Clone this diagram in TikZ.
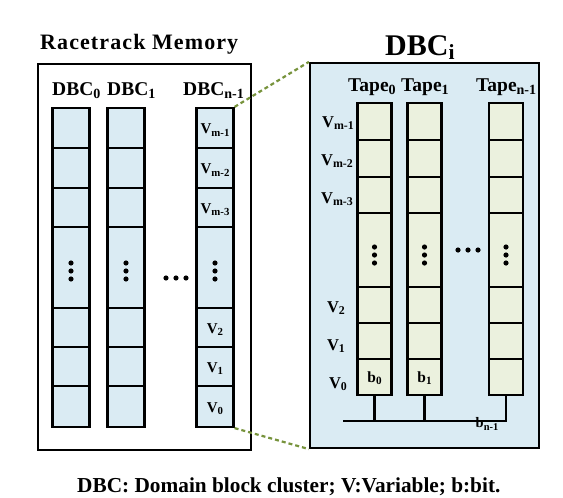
\documentclass[tikz,border=0pt]{standalone}
\usepackage{fontspec}
\usepackage{graphicx}
\setmainfont{Liberation Serif}
\definecolor{boxblue}{HTML}{DAEBF3}
\definecolor{tapefill}{HTML}{EBF1DE}
\definecolor{dashgreen}{HTML}{77933C}
\newcommand\sbt[1]{\raisebox{-0.35ex}{\scalebox{0.72}{#1}}}
\newcommand\fsz[1]{\fontsize{#1}{#1}\selectfont\bfseries}
\begin{document}
\begin{tikzpicture}[x=1pt,y=-1pt,
  lcell/.style={draw=black,line width=2.2pt,fill=boxblue,minimum width=37pt,inner sep=0pt},
  tcell/.style={draw=black,line width=2.2pt,fill=tapefill,minimum width=34pt,inner sep=0pt},
  bigbox/.style={draw=black,line width=2.2pt,inner sep=0pt},
  lvlab/.style={font=\fsz{15},inner sep=0pt},
  rvlab/.style={font=\fsz{16.5},inner sep=0pt},
  txt/.style={inner sep=0pt},
  zoomline/.style={draw=dashgreen,line width=2.2pt,dash pattern=on 4pt off 3pt},
  dot/.style={fill=black}]
\useasboundingbox (0,0) rectangle (563,498);
% left outer box
\node[bigbox,minimum width=213pt,minimum height=386pt] (rm) at (144.5,257) {};
\node[txt,anchor=base west,font=\fsz{22}\addfontfeature{LetterSpace=5}] (rmt) at (40,49) {Racetrack Memory};
% right box
\node[bigbox,fill=boxblue,minimum width=229pt,minimum height=385pt] (dbci) at (424.5,255.5) {};
\node[txt,anchor=base west,font=\fsz{30}] (dbcit) at (385,55) {DBC\sbt{i}};
% left columns
\foreach \c/\x in {a/71,b/126,c/215}{
  \foreach \n/\t/\b in {1/108/148,2/148/188,3/188/227,4/227/308,5/308/347,6/347/386,7/386/427}{
    \node[lcell,minimum height={(\b-\t)*1pt}] (\c\n) at (\x,{(\t+\b)/2}) {};
  }
}
\node[txt,anchor=base west,font=\fsz{19.5}] (la) at (52,95) {DBC\sbt{0}};
\node[txt,anchor=base west,font=\fsz{19.5}] (lb) at (107,95) {DBC\sbt{1}};
\node[txt,anchor=base west,font=\fsz{19.5}] (lc) at (183,95) {DBC\sbt{n-1}};
\node[lvlab] (cv1) at ([yshift=-2pt]c1.center) {V\sbt{m-1}};
\node[lvlab] (cv2) at ([yshift=-2pt]c2.center) {V\sbt{m-2}};
\node[lvlab] (cv3) at ([yshift=-2pt]c3.center) {V\sbt{m-3}};
\node[lvlab] (cv5) at ([yshift=-2pt]c5.center) {V\sbt{2}};
\node[lvlab] (cv6) at ([yshift=-2pt]c6.center) {V\sbt{1}};
\node[lvlab] (cv7) at ([yshift=-2pt]c7.center) {V\sbt{0}};
\foreach \c in {a,b,c}{
  \foreach \d in {-8,0,8}{
    \fill[dot] ([yshift=-3.5pt+\d pt]\c4.center) circle (2.6pt);
  }
}
\foreach \xx in {166,176,186}{\fill[dot] (\xx,278) circle (2.6pt);}
% tapes
\foreach \c/\x in {p/374.5,q/424.5,r/506}{
  \foreach \n/\t/\b in {1/103/140,2/140/177,3/177/213,4/213/287,5/287/323,6/323/359,7/359/395}{
    \node[tcell,minimum height={(\b-\t)*1pt}] (\c\n) at (\x,{(\t+\b)/2}) {};
  }
}
\node[txt,anchor=base west,font=\fsz{19.5}] (tp) at (348,91) {Tape\sbt{0}};
\node[txt,anchor=base west,font=\fsz{19.5}] (tq) at (401,91) {Tape\sbt{1}};
\node[txt,anchor=base west,font=\fsz{19.5}] (tr) at (476,91) {Tape\sbt{n-1}};
\foreach \c in {p,q,r}{
  \foreach \d in {-8,0,8}{
    \fill[dot] ([yshift=-5pt+\d pt]\c4.center) circle (2.6pt);
  }
}
\foreach \xx in {458,468,478}{\fill[dot] (\xx,250) circle (2.6pt);}
\node[rvlab] (rv1) at (338,123) {V\sbt{m-1}};
\node[rvlab] (rv2) at (337,161) {V\sbt{m-2}};
\node[rvlab] (rv3) at (337,199) {V\sbt{m-3}};
\node[rvlab] (rv5) at (336,308) {V\sbt{2}};
\node[rvlab] (rv6) at (336,346) {V\sbt{1}};
\node[rvlab] (rv7) at (338,384) {V\sbt{0}};
\node[txt,font=\fsz{15.5}] (b0) at ([yshift=-1pt]p7.center) {b\sbt{0}};
\node[txt,font=\fsz{15.5}] (b1) at ([yshift=-1pt]q7.center) {b\sbt{1}};
% bus
\coordinate (busL) at (343,421);
\draw[line width=2.2pt] (busL) -- (r7.south |- busL) -- (r7.south);
\draw[line width=2.2pt] (p7.south) -- (p7.south |- busL);
\draw[line width=2.2pt] (q7.south) -- (q7.south |- busL);
\node[txt,font=\fsz{14.5}] (bn) at (487,424) {b\sbt{n-1}};
% zoom lines
\draw[zoomline] (c1.north east) -- (dbci.north west);
\draw[zoomline] (c7.south east) -- (dbci.south west);
% caption
\node[txt,anchor=base west,font=\fsz{21.3}] (cap) at (77,492) {DBC: Domain block cluster; V:Variable; b:bit.};
\end{tikzpicture}
\end{document}
